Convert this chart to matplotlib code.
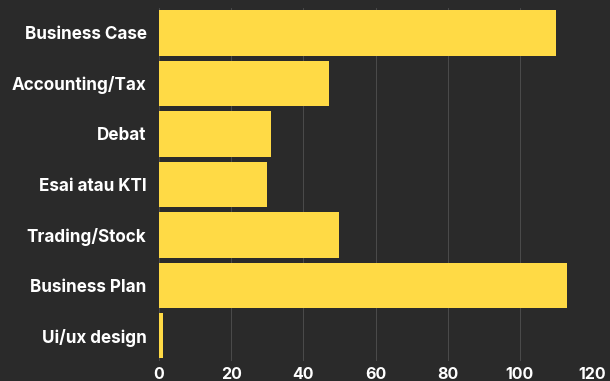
import matplotlib
matplotlib.use('Agg')
import matplotlib.pyplot as plt

categories = ['Business Case', 'Accounting/Tax', 'Debat', 'Esai atau KTI',
              'Trading/Stock', 'Business Plan', 'Ui/ux design']
values = [110, 47, 31, 30, 50, 113, 1]
xticks = [0, 20, 40, 60, 80, 100, 120]

plt.rcParams['font.family'] = ['Inter', 'DejaVu Sans']

fig = plt.figure(figsize=(6.1, 3.81), dpi=100)
fig.patch.set_facecolor('#2a2a2a')
ax = fig.add_axes([0.2607, 0.0525, 0.7098, 0.9272])
ax.set_facecolor('none')

ax.barh(categories, values, height=0.9, color='#FFDA45', zorder=3)
ax.set_ylim(len(categories) - 0.5, -0.5)
ax.set_xlim(0, 120)
ax.set_xticks(xticks)

# faint vertical grid
ax.grid(axis='x', color='#8a8a8a', linewidth=0.6, alpha=0.4, zorder=0)
for s in ax.spines.values():
    s.set_visible(False)
ax.tick_params(length=0, colors='white')
ax.tick_params(axis='y', pad=9)
ax.tick_params(axis='x', pad=4)
for lbl in ax.get_yticklabels():
    lbl.set_fontsize(12.3)
    lbl.set_fontweight('bold')
    lbl.set_color('white')
for lbl in ax.get_xticklabels():
    lbl.set_fontsize(11.5)
    lbl.set_fontweight('bold')
    lbl.set_color('white')

fig.savefig('out.png', dpi=100, facecolor=fig.get_facecolor())
